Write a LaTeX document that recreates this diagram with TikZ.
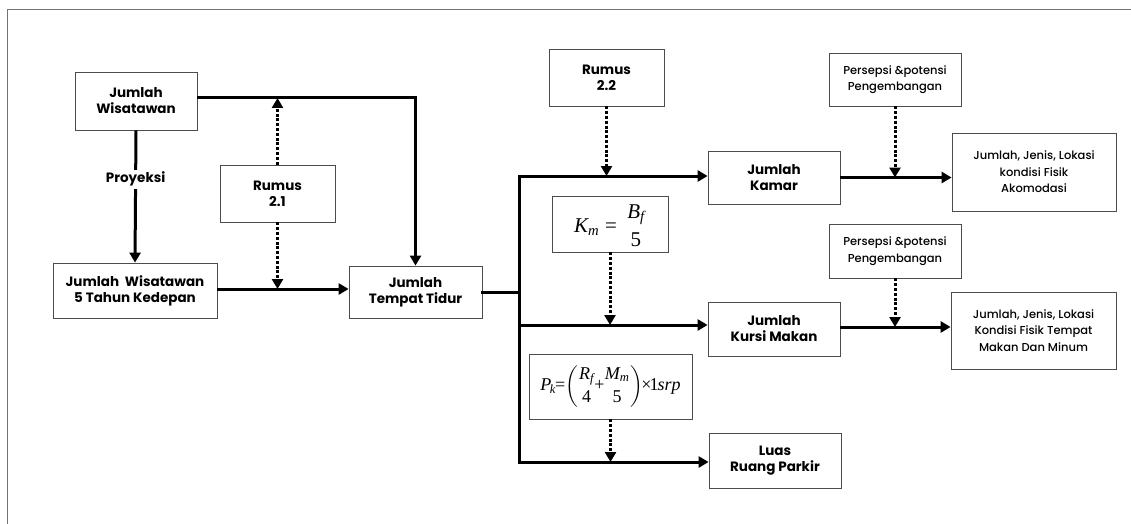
\documentclass[tikz,border=0pt]{standalone}
\usepackage{amsmath}
\usepackage{fontspec}
\setmainfont{Poppins}
\newfontfamily\medfam{Poppins Medium}
\newfontfamily\tmsfam{Liberation Serif}
\newcommand\tv[1]{\text{\tmsfam\itshape #1}}
\newcommand\tu[1]{\text{\tmsfam #1}}
\usetikzlibrary{arrows.meta}
\tikzset{
  box/.style={draw=black!70, line width=0.8pt, fill=white, inner sep=0pt, align=center},
  mainbox/.style={box, font=\fontsize{13.5}{16}\selectfont\bfseries},
  sidebox/.style={box, font=\fontsize{11.5}{16.5}\selectfont\medfam},
  flow/.style={line width=3pt, line cap=rect},
  flowarrow/.style={line width=3pt, -{Triangle[length=10pt,width=11pt]}},
  dotarrow/.style={line width=3pt, dash pattern=on 3pt off 1.8pt, -{Triangle[length=10pt,width=11pt]}},
}
\begin{document}
\begin{tikzpicture}[x=1pt,y=-1pt]
\useasboundingbox (0,0) rectangle (1131,524);
% frame
\draw[black!55, line width=1.6pt] (7.5,524) -- (7.5,9.5) -- (1131,9.5);
% nodes
\node[mainbox, minimum width=122pt, minimum height=58pt] (jw) at (136,101) {Jumlah\\Wisatawan};
\node[mainbox, minimum width=164pt, minimum height=55pt] (jw5) at (135,290.5) {Jumlah\ \ Wisatawan\\5 Tahun Kedepan};
\node[mainbox, minimum width=115pt, minimum height=57pt] (r21) at (277.5,193.5) {Rumus\\2.1};
\node[mainbox, minimum width=133pt, minimum height=52pt] (tt) at (415.5,292) {Jumlah\\Tempat Tidur};
\node[mainbox, minimum width=115pt, minimum height=57pt] (r22) at (606.5,77.5) {Rumus\\2.2};
\node[box, minimum width=116pt, minimum height=56pt] (km) at (610,224)
  {\fontsize{21}{22}\selectfont$\tv{K}_{\tv{m}} \mathrel{\tu{=}}\, \genfrac{}{}{0pt}{0}{\tv{B}_{\tv{f}}\vphantom{B_f^2}}{\tu{5}}$};
\node[box, minimum width=163pt, minimum height=65pt] (pk) at (610.5,386.5)
  {\fontsize{18}{19}\selectfont$\tv{P}_{\mkern-2mu\tv{k}}\mkern-1mu{\tu{=}}\mkern-3mu\left(\genfrac{}{}{0pt}{0}{\tv{R}_{\tv{f}}}{\tu{4}}\mkern-1mu{\tu{+}}\mkern-1mu\genfrac{}{}{0pt}{0}{\tv{M}_{\tv{m}}}{\tu{5}}\right)\mkern-5mu{\tu{×}}\mkern-2mu\tu{1}\mkern-1mu\tv{srp}$};
\node[mainbox, minimum width=132pt, minimum height=53pt] (kamar) at (774,177.5) {Jumlah\\Kamar};
\node[mainbox, minimum width=132pt, minimum height=54pt] (kursi) at (774,329) {Jumlah\\Kursi Makan};
\node[mainbox, minimum width=132pt, minimum height=55pt] (luas) at (775,460.5) {Luas\\Ruang Parkir};
\node[sidebox, minimum width=132pt, minimum height=53pt] (p1) at (895,79.5) {Persepsi \&potensi\\Pengembangan};
\node[sidebox, minimum width=132pt, minimum height=54pt] (p2) at (895,251) {Persepsi \&potensi\\Pengembangan};
\node[sidebox, minimum width=164pt, minimum height=78pt] (o1) at (1034,172) {Jumlah, Jenis, Lokasi\\kondisi Fisik\\Akomodasi};
\node[sidebox, minimum width=165pt, minimum height=77pt] (o2) at (1033.5,330.5) {Jumlah, Jenis, Lokasi\\Kondisi Fisik Tempat\\Makan Dan Minum};
% bus coordinates
\coordinate (bustop) at (519,176);
\coordinate (busmid) at (519,325);
\coordinate (busbot) at (519,462);
\coordinate (topline) at (300,98);
% left part
\draw[flowarrow] ([yshift=3pt]jw.east) -| (tt.north);
\draw[flowarrow] (jw.south) -- (jw5.north)
  node[pos=0.37, fill=white, inner sep=2pt, font=\fontsize{13.5}{15}\selectfont\bfseries] (proy) {Proyeksi};
\draw[flowarrow] ([yshift=1.5pt]jw5.east) -- ([yshift=1.5pt]jw5.east -| tt.west);
\draw[dotarrow] (r21.north) -- (r21.north |- topline);
\draw[dotarrow] (r21.south) -- ([yshift=1.5pt]r21.south |- jw5.east);
% bus
\draw[flow] (tt.east) -- (tt.east -| bustop);
\draw[flow] (bustop) -- (busbot);
\draw[flowarrow] (bustop) -- (bustop -| kamar.west);
\draw[flowarrow] (busmid) -- (busmid -| kursi.west);
\draw[flowarrow] (busbot) -- (busbot -| luas.west);
\draw[dotarrow] (r22.south) -- (r22.south |- bustop);
\draw[dotarrow] (km.south) -- (km.south |- busmid);
\draw[dotarrow] (pk.south) -- (pk.south |- busbot);
% right part
\draw[flowarrow] (kamar.east) -- (kamar.east -| o1.west);
\draw[dotarrow] (p1.south) -- (p1.south |- kamar.east);
\draw[flowarrow] ([yshift=2pt]kursi.east) -- ([yshift=2pt]kursi.east -| o2.west);
\draw[dotarrow] (p2.south) -- ([yshift=2pt]p2.south |- kursi.east);
\end{tikzpicture}
\end{document}
